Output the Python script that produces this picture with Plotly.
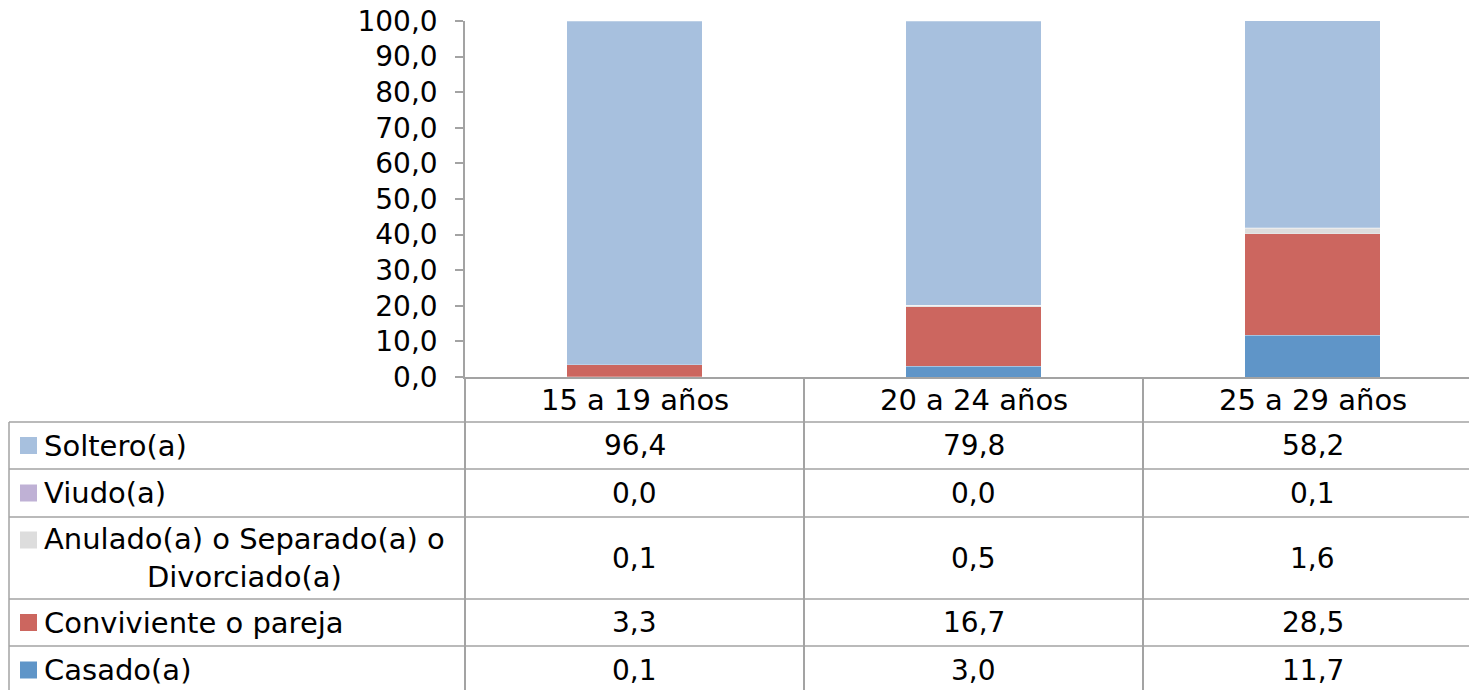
import plotly.graph_objects as go

# datos
categorias = ["15 a 19 años", "20 a 24 años", "25 a 29 años"]
series = ["Soltero(a)", "Viudo(a)", "Anulado(a) o Separado(a) o<br>Divorciado(a)",
          "Conviviente o pareja", "Casado(a)"]
soltero = [96.4, 79.8, 58.2]
viudo = [0.0, 0.0, 0.1]
anulado = [0.1, 0.5, 1.6]
conviviente = [3.3, 16.7, 28.5]
casado = [0.1, 3.0, 11.7]
valores = [soltero, viudo, anulado, conviviente, casado]
colores = ["#A7C0DE", "#BFB1D5", "#DDDDDD", "#CC665F", "#5F95C8"]

W, H = 1469, 690
FONT = "DejaVu Sans"
GRIS = "#A3A3A3"
T_NUM = 28   # números
T_TXT = 29   # etiquetas


def px(x):
    return x / W


def py(y):
    return 1 - y / H


def fmt(v):
    return f"{v:.1f}".replace(".", ",")


fig = go.Figure()

# barras apiladas, de abajo hacia arriba
for nombre, vals, col in reversed(list(zip(series, valores, colores))):
    fig.add_trace(go.Bar(
        x=categorias, y=vals, name=nombre,
        marker=dict(color=col, line=dict(color="rgba(255,255,255,0.5)", width=0.5)),
    ))

# tabla de datos
bordes = [378, 422, 469, 517, 599, 646, 694]
shapes = []
annotations = []

for y in bordes[1:-1]:
    shapes.append(dict(type="line", xref="paper", yref="paper",
                       x0=px(9), x1=1, y0=py(y), y1=py(y),
                       line=dict(color=GRIS, width=1.5)))
shapes.append(dict(type="line", xref="paper", yref="paper",
                   x0=px(9), x1=px(9), y0=py(422), y1=0,
                   line=dict(color=GRIS, width=1.5)))

# encabezado
for c in categorias:
    annotations.append(dict(x=c, xref="x", y=py(400), yref="paper",
                            text=c, showarrow=False, yanchor="middle",
                            font=dict(family=FONT, size=T_TXT, color="black")))

for i, (nombre, vals, col) in enumerate(zip(series, valores, colores)):
    top, bot = bordes[i + 1], bordes[i + 2]
    yc = (top + bot) / 2
    yk = yc if "<br>" not in nombre else top + 23
    shapes.append(dict(type="rect", xref="paper", yref="paper",
                       x0=px(20), x1=px(37), y0=py(yk - 8.5), y1=py(yk + 8.5),
                       fillcolor=col, line=dict(width=0)))
    annotations.append(dict(x=px(42), xref="paper", y=py(yc), yref="paper",
                            text=nombre, showarrow=False, xanchor="left",
                            yanchor="middle", align="center",
                            font=dict(family=FONT, size=T_TXT, color="black")))
    for c, v in zip(categorias, vals):
        annotations.append(dict(x=c, xref="x", y=py(yc), yref="paper",
                                text=fmt(v), showarrow=False, yanchor="middle",
                                font=dict(family=FONT, size=T_NUM, color="black")))

# la tabla original sigue un poco más allá del borde derecho
ancho_cat = 339
x_max = -0.5 + (W - 465) / ancho_cat

fig.update_layout(
    width=W, height=H,
    margin=dict(l=0, r=0, t=0, b=0, pad=0),
    paper_bgcolor="white", plot_bgcolor="white",
    barmode="stack", bargap=0.6,
    showlegend=False,
    separators=",.",
    font=dict(family=FONT, size=T_NUM, color="black"),
    shapes=shapes,
    annotations=annotations,
    xaxis=dict(domain=[px(465), 1], range=[-0.5, x_max],
               showline=True, linecolor=GRIS, linewidth=1.5,
               tickson="boundaries", ticks="outside", ticklen=H - 378,
               tickcolor=GRIS, tickwidth=1.5, showticklabels=False,
               showgrid=False, fixedrange=True, automargin=False),
    yaxis=dict(domain=[py(377), py(21)], range=[0, 100], dtick=10,
               tickformat=".1f", showline=True, linecolor=GRIS, linewidth=1.5,
               ticks="outside", ticklen=8, tickcolor=GRIS, tickwidth=1.5,
               ticklabelstandoff=12,
               showgrid=False, zeroline=False, automargin=False,
               tickfont=dict(family=FONT, size=T_NUM, color="black")),
)

fig.write_html("out.html", config={"displayModeBar": False},
               post_script="document.body.style.margin='0px';")
